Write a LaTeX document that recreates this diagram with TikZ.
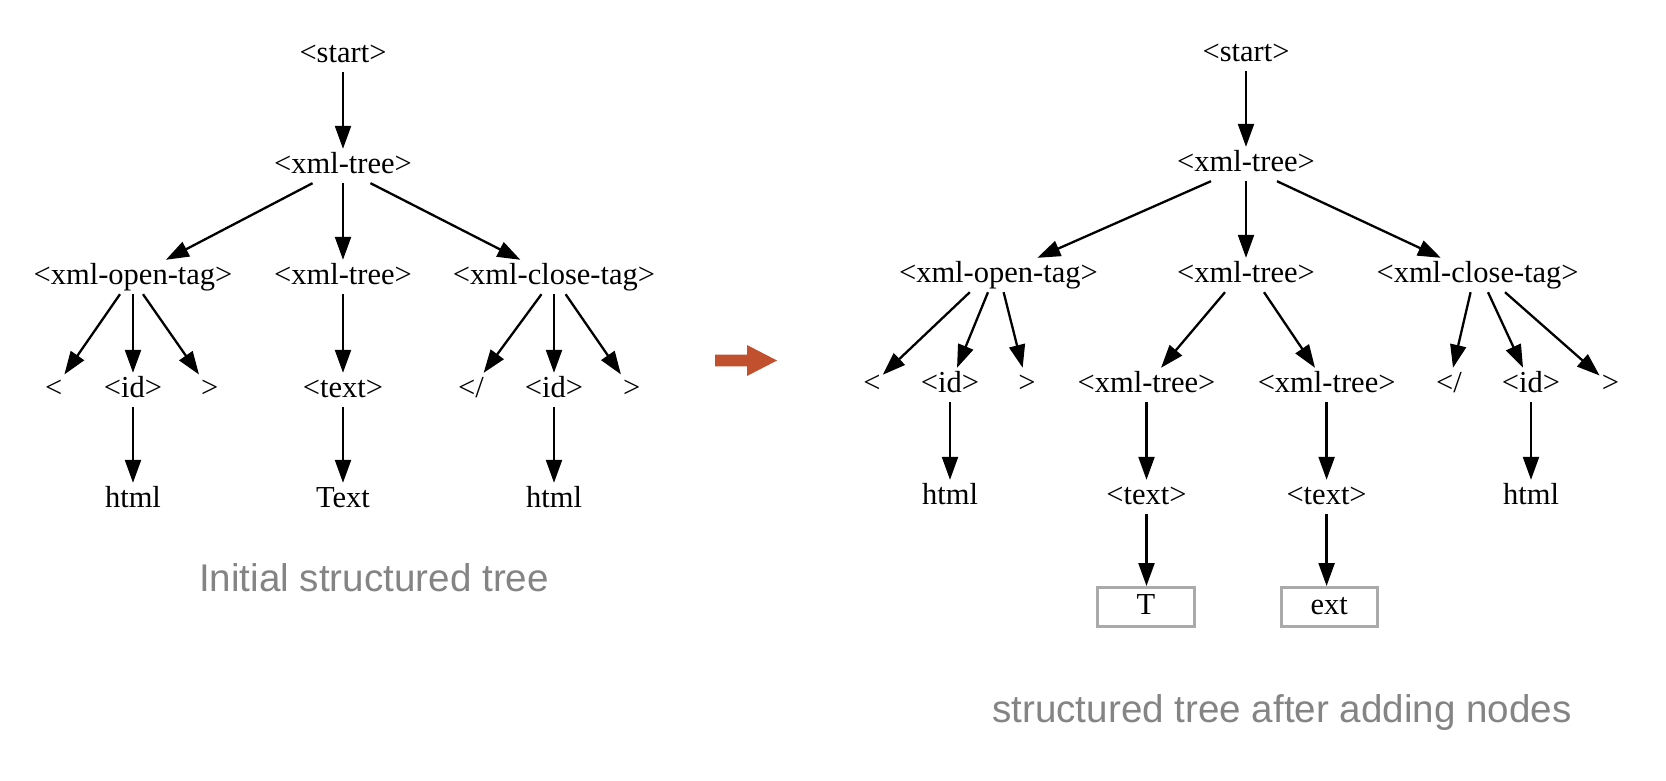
\documentclass[tikz,border=0pt]{standalone}
\usepackage{fontspec}
\setmainfont{Liberation Serif}
\newfontfamily\capfont{Liberation Sans}
\usetikzlibrary{arrows.meta}
\definecolor{orangeA}{RGB}{193,80,46}
\definecolor{capgray}{RGB}{132,132,132}
\definecolor{boxgray}{RGB}{170,170,170}
\begin{document}
\begin{tikzpicture}[x=1pt,y=-1pt,
  lab/.style={inner xsep=2pt, inner ysep=0pt, text height=24pt, text depth=10pt, font=\fontsize{30.5}{36}\selectfont},
  arr/.style={line width=2.3pt, -{Triangle[length=23pt,width=16pt]}},
  leaf/.style={lab, draw=boxgray, line width=3pt, minimum width=96.6pt, minimum height=39pt},
  captext/.style={font=\capfont\fontsize{38.6}{44}\selectfont, text=capgray, anchor=base, inner sep=0pt}]
\useasboundingbox (0,0) rectangle (1666,780);

% ---------- left tree ----------
\node[lab] (ls) at (343,55) {<start>};
\node[lab] (lx) at (343,166) {<xml-tree>};
\node[lab] (lo) at (133,277) {<xml-open-tag>};
\node[lab] (lm) at (343,277) {<xml-tree>};
\node[lab] (lc) at (554,277) {<xml-close-tag>};
\node[lab] (l1) at (53.6,390) {<};
\node[lab] (l2) at (133,390) {<id>};
\node[lab] (l3) at (209.8,390) {>};
\node[lab] (lt) at (343,390) {<text>};
\node[lab] (l4) at (471,390) {</};
\node[lab] (l5) at (554,390) {<id>};
\node[lab] (l6) at (631.7,390) {>};
\node[lab] (l7) at (133,500) {html};
\node[lab] (l8) at (343,500) {Text};
\node[lab] (l9) at (554,500) {html};
\node[captext] (lcap) at (374,591) {Initial structured tree};

\draw[arr] (ls) -- (lx);
\draw[arr] ([xshift=-30.5pt]lx.south) -- (lo);
\draw[arr] (lx) -- (lm);
\draw[arr] ([xshift=27.5pt]lx.south) -- (lc);
\draw[arr] ([xshift=-13pt]lo.south) -- (l1);
\draw[arr] (lo) -- (l2);
\draw[arr] ([xshift=10pt]lo.south) -- (l3);
\draw[arr] (lm) -- (lt);
\draw[arr] ([xshift=-12.5pt]lc.south) -- (l4);
\draw[arr] (lc) -- (l5);
\draw[arr] ([xshift=11.6pt]lc.south) -- (l6);
\draw[arr] (l2) -- (l7);
\draw[arr] (lt) -- (l8);
\draw[arr] (l5) -- (l9);

% ---------- transition arrow ----------
\fill[orangeA] (715,354.6) -- (747,354.6) -- (747,345) -- (777,360.5) -- (747,376) -- (747,366.4) -- (715,366.4) -- cycle;

% ---------- right tree ----------
\node[lab] (rs) at (1246,54) {<start>};
\node[lab] (rx) at (1246,164) {<xml-tree>};
\node[lab] (ro) at (998.4,275) {<xml-open-tag>};
\node[lab] (rm) at (1246,275) {<xml-tree>};
\node[lab] (rc) at (1477.6,275) {<xml-close-tag>};
\node[lab] (r1) at (871.9,385) {<};
\node[lab] (r2) at (950,385) {<id>};
\node[lab] (r3) at (1027,385) {>};
\node[lab] (ra) at (1146.5,385) {<xml-tree>};
\node[lab] (rb) at (1326.6,385) {<xml-tree>};
\node[lab] (r4) at (1449,385) {</};
\node[lab] (r5) at (1531,385) {<id>};
\node[lab] (r6) at (1610.4,385) {>};
\node[lab] (r7) at (950,497) {html};
\node[lab] (rta) at (1146.5,497) {<text>};
\node[lab] (rtb) at (1326.6,497) {<text>};
\node[lab] (r8) at (1531,497) {html};
\node[leaf] (bT) at (1146,607) {T};
\node[leaf] (bext) at (1329.3,607) {ext};
\node[captext] (rcap) at (1282,722) {structured tree after adding nodes};

\draw[arr] (rs) -- (rx);
\draw[arr] ([xshift=-35pt]rx.south) -- (ro);
\draw[arr] (rx) -- (rm);
\draw[arr] ([xshift=31pt]rx.south) -- (rc);
\draw[arr] ([xshift=-28.6pt]ro.south) -- (r1);
\draw[arr] ([xshift=-10.4pt]ro.south) -- (r2);
\draw[arr] ([xshift=5.2pt]ro.south) -- (r3);
\draw[arr] ([xshift=-21pt]rm.south) -- (ra);
\draw[arr] ([xshift=18pt]rm.south) -- (rb);
\draw[arr] ([xshift=-7pt]rc.south) -- (r4);
\draw[arr] ([xshift=10.4pt]rc.south) -- (r5);
\draw[arr] ([xshift=27.4pt]rc.south) -- (r6);
\draw[arr] (r2) -- (r7);
\draw[arr] (ra) -- (rta);
\draw[arr] (rb) -- (rtb);
\draw[arr] (r5) -- (r8);
\draw[arr] (rta) -- (rta |- bT.north);
\draw[arr] (rtb) -- (rtb |- bext.north);
\end{tikzpicture}
\end{document}
